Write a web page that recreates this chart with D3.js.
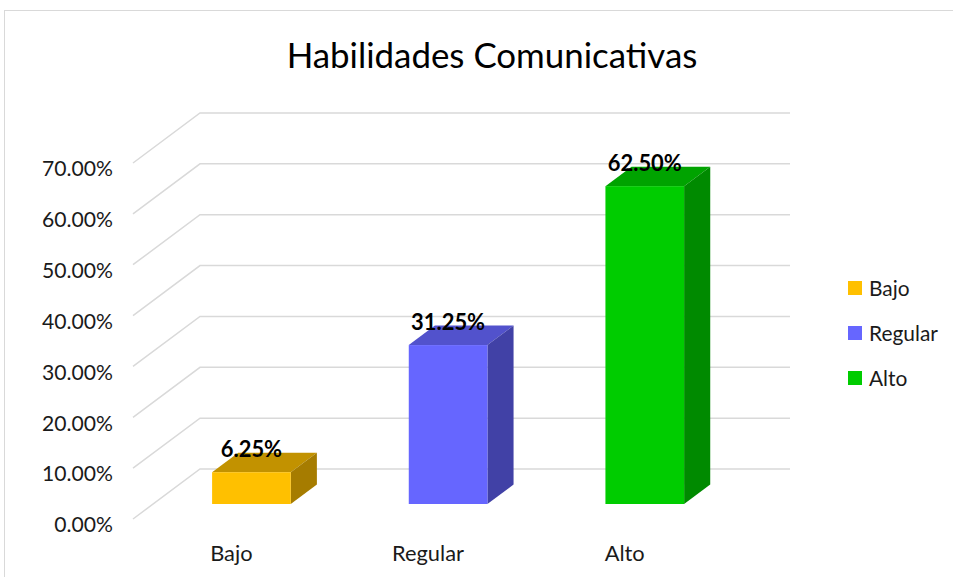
<!DOCTYPE html>
<html>
<head>
<meta charset="utf-8">
<script src="https://cdn.jsdelivr.net/npm/d3@7"></script>
<style>
  body { margin: 0; background: #fff; }
  text { font-family: Lato, "Open Sans", sans-serif; }
</style>
</head>
<body>
<script>
// data
var categories = ["Bajo", "Regular", "Alto"];
var values = [0.0625, 0.3125, 0.625];
var yTicks = [0, 0.1, 0.2, 0.3, 0.4, 0.5, 0.6, 0.7];
var chartTitle = "Habilidades Comunicativas";

// colors (front, top, side)
var color = {
  "Bajo":    ["#ffc000", "#c29200", "#a67c00"],
  "Regular": ["#6666ff", "#5252cc", "#4141a6"],
  "Alto":    ["#00cc00", "#00a300", "#008a00"]
};

var W = 953, H = 577;
var depth = {dx: 67, dy: -50};

var svg = d3.select("body").append("svg").attr("width", W).attr("height", H);

// outer frame (cut off at right and bottom like the picture)
svg.append("rect")
  .attr("x", 4.5).attr("y", 10.5).attr("width", 1100).attr("height", 1100)
  .attr("fill", "none").attr("stroke", "#d9d9d9");

// scale a font so that a text reaches a given width
function fitFont(sel, target) {
  var w = sel.node().getComputedTextLength();
  var fs = parseFloat(sel.attr("font-size"));
  return fs * target / w;
}

// scales
var y = d3.scaleLinear().domain([0, 0.7]).range([519, 163]);
var x = d3.scaleBand().domain(categories).range([133, 723])
  .paddingInner(0.6).paddingOuter(0.3);

// title
var title = svg.append("text")
  .attr("x", 492).attr("y", 68)
  .attr("text-anchor", "middle")
  .attr("font-size", 36)
  .attr("fill", "#000")
  .text(chartTitle);
title.attr("font-size", fitFont(title, 411));

// gridlines: floor-to-wall diagonal, then along the back wall
svg.append("g").selectAll("path")
  .data(yTicks)
  .enter().append("path")
    .attr("fill", "none")
    .attr("stroke", "#d9d9d9")
    .attr("stroke-width", 1.5)
    .attr("d", function(t) {
      var x0 = x.range()[0], yy = y(t);
      return "M" + x0 + "," + yy +
             "L" + (x0 + depth.dx) + "," + (yy + depth.dy) +
             "L" + (x.range()[1] + depth.dx) + "," + (yy + depth.dy);
    });

// y axis labels
var yAxis = svg.append("g")
  .attr("transform", "translate(113,6)")
  .call(d3.axisLeft(y).tickValues(yTicks).tickSize(0).tickPadding(0)
    .tickFormat(d3.format(".2%")));
yAxis.select(".domain").remove();
yAxis.attr("font-family", null).attr("font-size", 20);
yAxis.selectAll("text").attr("fill", "#1a1a1a");
var refTick = yAxis.selectAll("text").filter(function(d) { return d === 0.7; });
yAxis.attr("font-size", fitFont(refTick.attr("font-size", 20), 71));
yAxis.selectAll("text").attr("font-size", null);

// category labels
var xAxis = svg.append("g")
  .attr("transform", "translate(0,553)")
  .call(d3.axisBottom(x).tickSize(0).tickPadding(0));
xAxis.select(".domain").remove();
xAxis.attr("font-family", null);
xAxis.selectAll("text").attr("dy", "0.35em").attr("fill", "#1a1a1a").attr("font-size", 20);
var refCat = xAxis.selectAll("text").filter(function(d) { return d === "Regular"; });
var catFs = fitFont(refCat, 72);
xAxis.selectAll("text").attr("font-size", catFs);

// bars: placed at 30% of the floor depth, 39% deep
var off = 0.3, thick = 0.39;
var bw = x.bandwidth();
var bars = svg.append("g").selectAll("g.bar")
  .data(categories.map(function(c, i) { return {cat: c, value: values[i]}; }))
  .enter().append("g").attr("class", "bar");

function geom(d) {
  var x0 = x(d.cat) + off * depth.dx;
  var yt = y(d.value) + off * depth.dy;
  var yb = y(0) + off * depth.dy;
  return {x0: x0, yt: yt, yb: yb, ddx: thick * depth.dx, ddy: thick * depth.dy};
}

bars.append("path")
  .attr("fill", function(d) { return color[d.cat][1]; })
  .attr("d", function(d) {
    var g = geom(d);
    return "M" + g.x0 + "," + g.yt +
           "L" + (g.x0 + g.ddx) + "," + (g.yt + g.ddy) +
           "L" + (g.x0 + bw + g.ddx) + "," + (g.yt + g.ddy) +
           "L" + (g.x0 + bw) + "," + g.yt + "Z";
  });

bars.append("path")
  .attr("fill", function(d) { return color[d.cat][2]; })
  .attr("d", function(d) {
    var g = geom(d);
    return "M" + (g.x0 + bw) + "," + g.yt +
           "L" + (g.x0 + bw + g.ddx) + "," + (g.yt + g.ddy) +
           "L" + (g.x0 + bw + g.ddx) + "," + (g.yb + g.ddy) +
           "L" + (g.x0 + bw) + "," + g.yb + "Z";
  });

bars.append("rect")
  .attr("fill", function(d) { return color[d.cat][0]; })
  .attr("x", function(d) { return geom(d).x0; })
  .attr("y", function(d) { return geom(d).yt; })
  .attr("width", bw)
  .attr("height", function(d) { var g = geom(d); return g.yb - g.yt; });

// data labels
var labels = bars.append("text")
  .attr("x", function(d) { return geom(d).x0 + bw / 2; })
  .attr("y", function(d) { return geom(d).yt - 23; })
  .attr("dy", "0.35em")
  .attr("text-anchor", "middle")
  .attr("font-weight", "bold")
  .attr("font-size", 20)
  .attr("fill", "#000")
  .text(function(d) { return d3.format(".2%")(d.value); });
var refLab = labels.filter(function(d) { return d.cat === "Regular"; });
labels.attr("font-size", fitFont(refLab, 74));

// legend
var legend = svg.append("g").attr("transform", "translate(848,281)");
var items = legend.selectAll("g")
  .data(categories)
  .enter().append("g")
    .attr("transform", function(d, i) { return "translate(0," + (i * 45) + ")"; });
items.append("rect")
  .attr("width", 14).attr("height", 14)
  .attr("fill", function(d) { return color[d][0]; });
var legText = items.append("text")
  .attr("x", 21).attr("y", 8)
  .attr("dy", "0.35em")
  .attr("font-size", 20)
  .attr("fill", "#1a1a1a")
  .text(function(d) { return d; });
var refLeg = legText.filter(function(d) { return d === "Regular"; });
legText.attr("font-size", fitFont(refLeg, 69));
</script>
</body>
</html>
